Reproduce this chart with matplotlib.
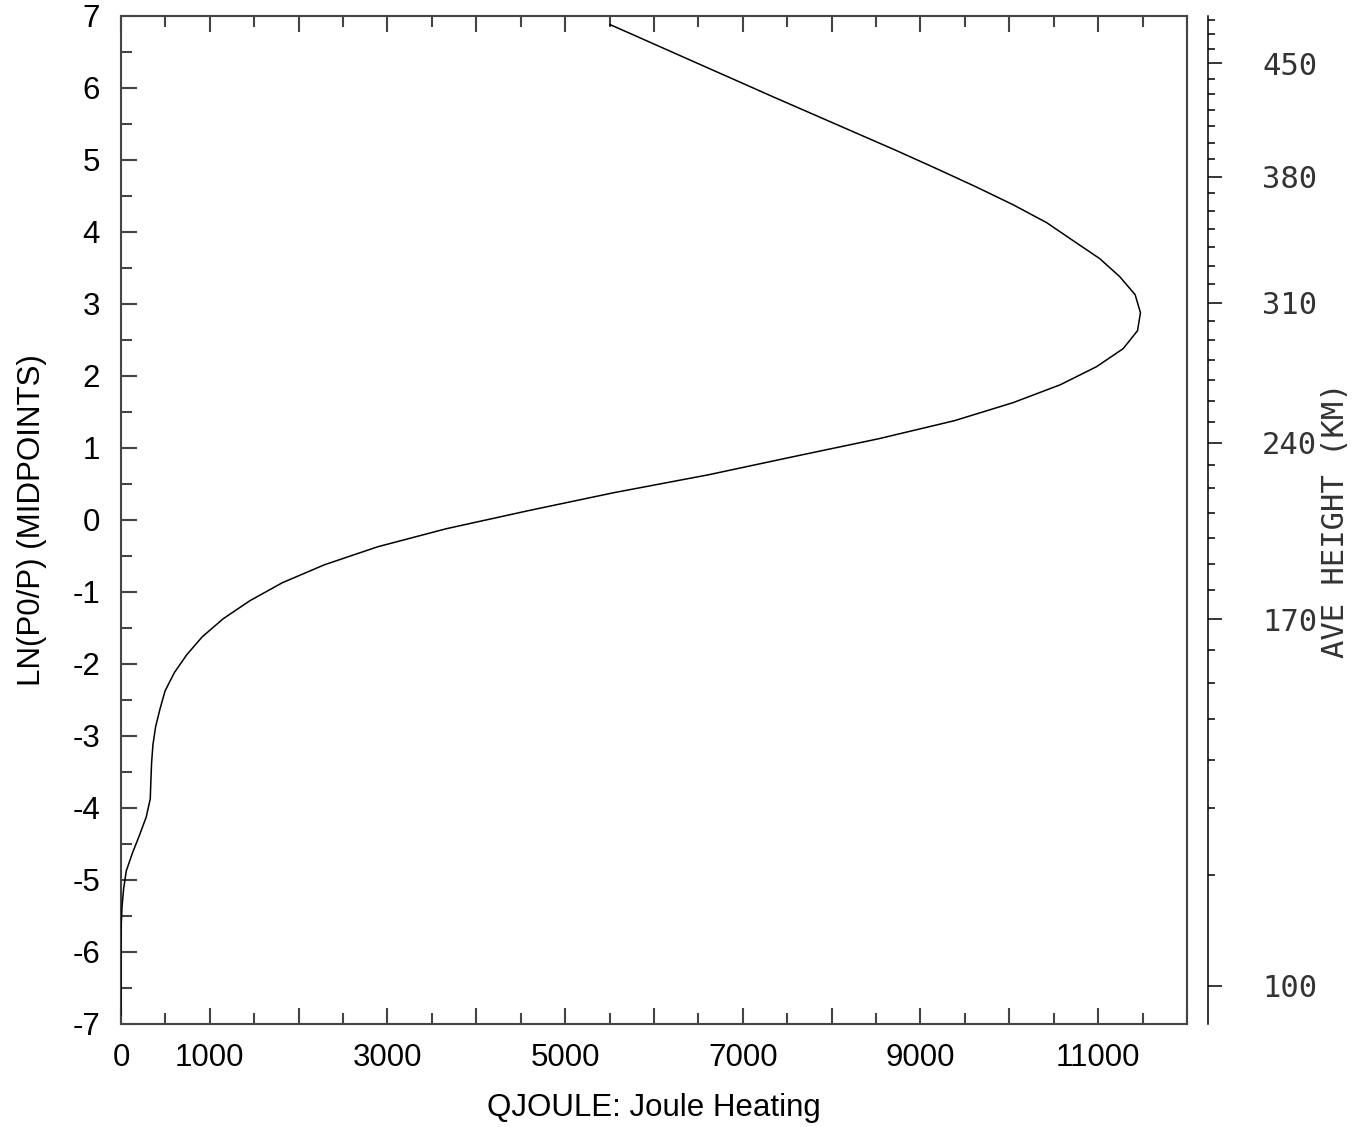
import numpy as np
import matplotlib
matplotlib.use("Agg")
import matplotlib.pyplot as plt
from matplotlib.ticker import FixedLocator, MultipleLocator


# Joule heating profile at the level midpoints (ln(p0/p))

lev = [-6.875, -6.625, -6.375, -6.125, -5.875, -5.625, -5.375, -5.125,
       -4.875, -4.625, -4.375, -4.125, -3.875, -3.625, -3.375, -3.125,
       -2.875, -2.625, -2.375, -2.125, -1.875, -1.625, -1.375, -1.125,
       -0.875, -0.625, -0.375, -0.125, 0.125, 0.375, 0.625, 0.875,
       1.125, 1.375, 1.625, 1.875, 2.125, 2.375, 2.625, 2.875,
       3.125, 3.375, 3.625, 3.875, 4.125, 4.375, 4.625, 4.875,
       5.125, 5.375, 5.625, 5.875, 6.125, 6.375, 6.625, 6.875]

qjoule = [0, 0, 0, 0, 0, 3, 12, 30,
          60, 130, 210, 285, 330, 337, 345, 360,
          390, 440, 497, 600, 740, 915, 1150, 1450,
          1815, 2290, 2890, 3660, 4580, 5544, 6615, 7565,
          8530, 9380, 10040, 10575, 10981, 11281, 11443, 11476,
          11416, 11243, 11018, 10718, 10420, 10040, 9620, 9180,
          8730, 8265, 7800, 7335, 6878, 6420, 5963, 5505]

# average height (km) against ln(p0/p), for the right hand axis
height_km = [100, 110, 120, 130, 140, 150, 160, 170, 180, 190,
             200, 210, 220, 230, 240, 250, 260, 270, 280, 290,
             300, 310, 320, 330, 340, 350, 360, 370, 380, 390,
             400, 410, 420, 430, 440, 450, 460, 470, 480]
height_lev = [-6.47, -4.93, -4.00, -3.33, -2.76, -2.26, -1.81, -1.38, -0.98, -0.61,
              -0.25, 0.10, 0.44, 0.76, 1.07, 1.36, 1.65, 1.94, 2.22, 2.49,
              2.76, 3.01, 3.28, 3.53, 3.78, 4.03, 4.28, 4.53, 4.76, 5.01,
              5.23, 5.47, 5.69, 5.91, 6.12, 6.34, 6.53, 6.74, 6.94]
height_labeled = [100, 170, 240, 310, 380, 450]

xtick_labels = [0, 1000, 3000, 5000, 7000, 9000, 11000]


fig = plt.figure(figsize=(13.65, 11.27), dpi=100)
ax = fig.add_axes([0.0886, 0.0914, 0.7810, 0.8948])

ax.plot(qjoule, lev, color="black", lw=1.1, zorder=3)

ax.set_xlim(0, 12000)
ax.set_ylim(-7, 7)

ax.set_xticks(np.arange(0, 12001, 1000))
ax.set_xticklabels([str(v) if v in xtick_labels else "" for v in range(0, 12001, 1000)])
ax.xaxis.set_minor_locator(MultipleLocator(500))
ax.set_yticks(range(-7, 8))
ax.set_yticklabels([str(v) for v in range(-7, 8)])
ax.yaxis.set_minor_locator(MultipleLocator(0.5))

gray = "#444444"
for s in ax.spines.values():
    s.set_color(gray)
    s.set_linewidth(1.5)

ax.tick_params(which="both", direction="in", top=True, right=True,
               color=gray, width=1.5, labelsize=22.5)
ax.tick_params(which="major", length=11.5)
ax.tick_params(which="minor", length=8)
ax.tick_params(axis="y", which="major", pad=15)
ax.tick_params(axis="x", which="major", pad=14)

for lab in ax.get_xticklabels() + ax.get_yticklabels():
    lab.set_fontfamily("Liberation Sans")

ax.set_xlabel("QJOULE: Joule Heating", fontsize=22.5, family="Liberation Sans", labelpad=14)
ax.set_ylabel("LN(P0/P) (MIDPOINTS)", fontsize=22.5, family="Liberation Sans", labelpad=18)

# right hand height axis
ax2 = ax.twinx()
ax2.set_ylim(-7, 7)
for side in ["top", "bottom", "left"]:
    ax2.spines[side].set_visible(False)
ax2.spines["right"].set_position(("outward", 15))
ax2.spines["right"].set_color("black")
ax2.spines["right"].set_linewidth(1.1)

major_pos = [height_lev[height_km.index(h)] for h in height_labeled]
minor_pos = [p for h, p in zip(height_km, height_lev) if h not in height_labeled]
ax2.yaxis.set_major_locator(FixedLocator(major_pos))
ax2.yaxis.set_minor_locator(FixedLocator(minor_pos))
ax2.set_yticklabels([str(h) for h in height_labeled])
ax2.tick_params(which="both", direction="out", color="black", width=1.1,
                labelsize=22, labelcolor="#333333")
ax2.tick_params(which="major", length=10, pad=29)
ax2.tick_params(which="minor", length=5)
for lab in ax2.get_yticklabels():
    lab.set_fontfamily("DejaVu Sans Mono")

fig.text(0.9787, 0.538, "AVE HEIGHT (KM)", rotation=90, ha="center", va="center",
         fontsize=22, family="DejaVu Sans Mono", color="#333333")

fig.savefig("out.png", dpi=100)
